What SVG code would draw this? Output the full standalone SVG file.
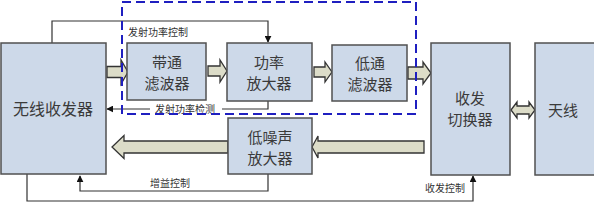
<svg xmlns="http://www.w3.org/2000/svg" width="594" height="207" viewBox="0 0 594 207">
<defs>
<marker id="ah" viewBox="0 0 10 10" refX="9" refY="5" markerWidth="7" markerHeight="7" orient="auto" markerUnits="userSpaceOnUse">
<path d="M0,0 L10,5 L0,10 Z" fill="#111"/>
</marker>
</defs>
<style>
.box{fill:#cdd9e9;stroke:#505050;stroke-width:1.5}
.t{font-family:"Noto Sans CJK SC","Noto Sans CJK JP",sans-serif;font-size:15px;fill:#3a3a3a;text-anchor:middle;dominant-baseline:central}
.s{font-family:"Noto Sans CJK SC","Noto Sans CJK JP",sans-serif;font-size:10px;fill:#333;dominant-baseline:central}
.ln{fill:none;stroke:#333;stroke-width:1.2}
.fat{fill:#dcdcc8;stroke:#333;stroke-width:1.3}
.dash{fill:none;stroke:#1f1fc0;stroke-width:2;stroke-dasharray:9 5}
</style>
<rect width="594" height="207" fill="#fff"/>
<g id="connectors">
<polyline class="ln" points="52,43 52,21 268,21 268,42" marker-end="url(#ah)"/>
<polyline class="ln" points="268,101 268,109 107,109" marker-end="url(#ah)"/>
<polyline class="ln" points="268,174 268,191 80,191 80,176" marker-end="url(#ah)"/>
<polyline class="ln" points="27,174 27,201 473,201 473,176" marker-end="url(#ah)"/>
<path class="fat" d="M107,66.5 L121,66.5 L121,60 L128,72 L121,84 L121,77.5 L107,77.5 Z"/>
<path class="fat" d="M208,66 L220,66 L220,60 L227,71 L220,82 L220,76 L208,76 Z"/>
<path class="fat" d="M314,67 L325,67 L325,62 L332,72 L325,82 L325,77 L314,77 Z"/>
<path class="fat" d="M408,67 L423,67 L423,62 L431,73 L423,84 L423,79 L408,79 Z"/>
<path class="fat" d="M511,110 L517,102 L517,106 L529,106 L529,102 L535,110 L529,118 L529,114 L517,114 L517,118 Z"/>
<path class="fat" d="M424,141 L318,141 L318,136 L312,147 L318,158 L318,153 L424,153 Z"/>
<path class="fat" d="M228,141 L124,141 L124,135.5 L112,147 L124,158.5 L124,153 L228,153 Z"/>
<rect x="150" y="103" width="72" height="12" fill="#fff"/>
<text class="s" x="128" y="31">发射功率控制</text>
<text class="s" x="155" y="108.5">发射功率检测</text>
<text class="s" x="150" y="182">增益控制</text>
<text class="s" x="425" y="187">收发控制</text>
</g>
<rect class="dash" x="122" y="2" width="294" height="112"/>
<g id="n1"><rect class="box" x="1" y="43" width="105" height="131"/><text class="t" x="53" y="108" style="font-size:16px">无线收发器</text></g>
<g id="n2"><rect class="box" x="127" y="43" width="79" height="57"/><text class="t" x="167" y="61">带通</text><text class="t" x="167" y="82">滤波器</text></g>
<g id="n3"><rect class="box" x="227" y="43" width="85" height="58"/><text class="t" x="269" y="61">功率</text><text class="t" x="269" y="82">放大器</text></g>
<g id="n4"><rect class="box" x="332" y="45" width="75" height="56"/><text class="t" x="370" y="62">低通</text><text class="t" x="370" y="83">滤波器</text></g>
<g id="n5"><rect class="box" x="431" y="43" width="79" height="132"/><text class="t" x="470" y="97">收发</text><text class="t" x="470" y="118">切换器</text></g>
<g id="n6"><rect class="box" x="535" y="43" width="60" height="132"/><text class="t" x="563" y="109">天线</text></g>
<g id="n7"><rect class="box" x="228" y="118" width="84" height="56"/><text class="t" x="270" y="136">低噪声</text><text class="t" x="270" y="157">放大器</text></g>
</svg>
